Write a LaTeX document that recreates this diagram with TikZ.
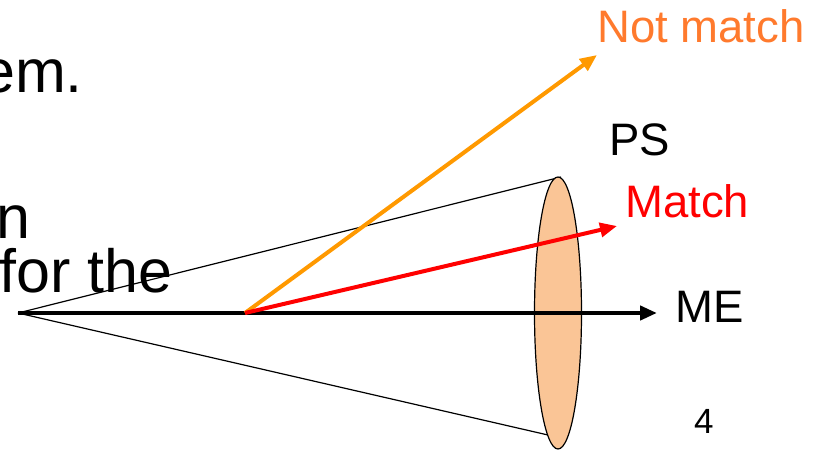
\documentclass[tikz,border=0pt]{standalone}
\usepackage{fontspec}
\setmainfont{Liberation Sans}
\usetikzlibrary{arrows.meta,shapes.geometric}
\definecolor{notmatch}{RGB}{255,122,45}
\definecolor{orangearrow}{RGB}{255,153,0}
\definecolor{lensfill}{RGB}{250,197,150}
\tikzset{
  conel/.style={draw=black, line width=1.2pt},
  vec/.style={line width=4pt, -{Triangle[length=17pt,width=14pt]}},
  lbl/.style={inner sep=0pt, anchor=base west, font=\fontsize{45.5}{52}\selectfont},
  bodytext/.style={inner sep=0pt, anchor=base west, font=\fontsize{61}{70}\selectfont},
  lensstyle/.style={draw=black, line width=1.2pt, fill=lensfill, ellipse, inner sep=0pt, outer sep=0pt, minimum width=47pt, minimum height=272pt}
}
\begin{document}
\begin{tikzpicture}[x=1pt,y=-1pt]
\useasboundingbox (0,0) rectangle (813,452);
\clip (0,0) rectangle (813,452);
% cut-off slide text
\node[bodytext] (t1) at (-19,92) {em.};
\node[bodytext] (t2) at (-4,238) {n};
\node[bodytext] (t3) at (-1,292) {for the};
% geometry
\coordinate (apex) at (18,313);
\coordinate (ctop) at (561,177);
\coordinate (cbot) at (548,435);
\coordinate (orig) at (245,313);
\coordinate (metip) at (657,313);
\coordinate (nmtip) at (597,55);
\coordinate (mtip) at (617,226);
\draw[conel] (apex) -- (ctop);
\draw[conel] (apex) -- (cbot);
\node[lensstyle] (lens) at (558,313) {};
\draw[vec, black, line width=4.5pt] (apex) -- (metip);
\draw[vec, orangearrow] (orig) -- (nmtip);
\draw[vec, red] (orig) -- (mtip);
% labels
\node[lbl, text=notmatch] (lnm) at (597,42) {Not match};
\node[lbl] (lps) at (609,155) {PS};
\node[lbl, text=red] (lm) at (625,217) {Match};
\node[lbl] (lme) at (675,322) {ME};
\node[inner sep=0pt, anchor=base west, font=\fontsize{35}{40}\selectfont] (pg) at (694,433) {4};
\end{tikzpicture}
\end{document}
